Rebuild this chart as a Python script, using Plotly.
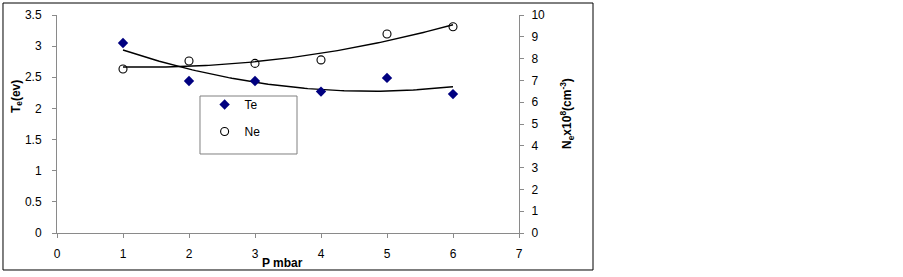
import numpy as np
import plotly.graph_objects as go

pressure = [1, 2, 3, 4, 5, 6]
te_values = [3.05, 2.44, 2.44, 2.27, 2.49, 2.23]
ne_values = [7.52, 7.89, 7.78, 7.94, 9.13, 9.46]
x_ticks = [0, 1, 2, 3, 4, 5, 6, 7]
te_ticks = [0, 0.5, 1, 1.5, 2, 2.5, 3, 3.5]
ne_ticks = list(range(0, 11))

# second-order polynomial trendlines (as in the original spreadsheet chart)
xs = np.linspace(1, 6, 101)
te_fit = np.polyval(np.polyfit(pressure, te_values, 2), xs)
ne_fit = np.polyval(np.polyfit(pressure, ne_values, 2), xs)

FONT = "Liberation Sans, Arial, sans-serif"
AX = "#8a8a8a"
FS = 12

fig = go.Figure()
fig.add_trace(go.Scatter(x=xs, y=te_fit, mode="lines", line=dict(color="black", width=1.4),
                         showlegend=False, hoverinfo="skip"))
fig.add_trace(go.Scatter(x=xs, y=ne_fit, mode="lines", line=dict(color="black", width=1.4),
                         showlegend=False, hoverinfo="skip", yaxis="y2"))
fig.add_trace(go.Scatter(x=pressure, y=te_values, mode="markers", name="Te", legendgroup="a",
                         marker=dict(symbol="diamond", color="#000080", size=8)))
fig.add_trace(go.Scatter(x=pressure, y=ne_values, mode="markers", name="Ne", legendgroup="b",
                         marker=dict(symbol="circle-open", color="black", size=8,
                                     line=dict(width=1.1)), yaxis="y2"))

common = dict(showgrid=False, zeroline=False, automargin=False, tickcolor=AX,
              tickfont=dict(size=FS))
inner = dict(showgrid=False, zeroline=False, automargin=False, tickcolor=AX,
             showticklabels=False, showline=False, ticks="inside", ticklen=4)

fig.update_layout(
    width=903, height=277,
    margin=dict(l=57, r=384, t=15, b=44, autoexpand=False),
    paper_bgcolor="white", plot_bgcolor="white",
    font=dict(family=FONT, size=FS, color="black"),
    xaxis=dict(range=[0, 7], tickvals=x_ticks, showline=True, linecolor=AX, linewidth=1,
               ticks="outside", ticklen=4, ticklabelstandoff=6, **common),
    xaxis2=dict(range=[0, 7], tickvals=x_ticks, overlaying="x", side="bottom", anchor="y",
                **inner),
    yaxis=dict(range=[0, 3.5], tickvals=te_ticks, showline=True, linecolor=AX, linewidth=1,
               ticks="outside", ticklen=4, ticklabelstandoff=8, **common),
    yaxis3=dict(range=[0, 3.5], tickvals=te_ticks, overlaying="y", side="left", anchor="x",
                **inner),
    yaxis2=dict(range=[0, 10], tickvals=ne_ticks, overlaying="y", side="right", anchor="x",
                showline=True, linecolor=AX, linewidth=1, ticks="outside", ticklen=4,
                ticklabelstandoff=5, **common),
    yaxis4=dict(range=[0, 10], tickvals=ne_ticks, overlaying="y", side="right", anchor="x",
                **inner),
    legend=dict(x=0.3195, y=0.656, xanchor="left", yanchor="top",
                bgcolor="rgba(0,0,0,0)", borderwidth=0,
                traceorder="grouped", tracegroupgap=8, font=dict(size=FS)),
    annotations=[
        dict(text="<b>P mbar</b>", xref="paper", yref="paper", x=0.489, y=-0.1376,
             xanchor="center", yanchor="middle", showarrow=False, font=dict(size=FS)),
        dict(text="<b>T<sub>e</sub>(ev)</b>", xref="paper", yref="paper", x=-0.0866, y=0.628,
             xanchor="center", yanchor="middle", showarrow=False, textangle=-90,
             font=dict(size=FS)),
        dict(text="<b>N<sub>e</sub>x10<sup>8</sup>(cm<sup>-3</sup>)</b>", xref="paper",
             yref="paper", x=1.1039, y=0.546, xanchor="center", yanchor="middle",
             showarrow=False, textangle=-90, font=dict(size=FS)),
    ],
    shapes=[
        dict(type="rect", xref="paper", yref="paper", x0=-0.1169, x1=1.1602,
             y0=-0.1697, y1=1.055, line=dict(color="black", width=1)),
        dict(type="rect", xref="paper", yref="paper", x0=0.3095, x1=0.5195,
             y0=0.3624, y1=0.6284, line=dict(color="#808080", width=1),
             fillcolor="white", layer="below"),
    ],
)

fig.write_html("out.html", config={"displayModeBar": False},
               post_script="document.body.style.margin='0';"
                           "document.documentElement.style.overflow='hidden';")
